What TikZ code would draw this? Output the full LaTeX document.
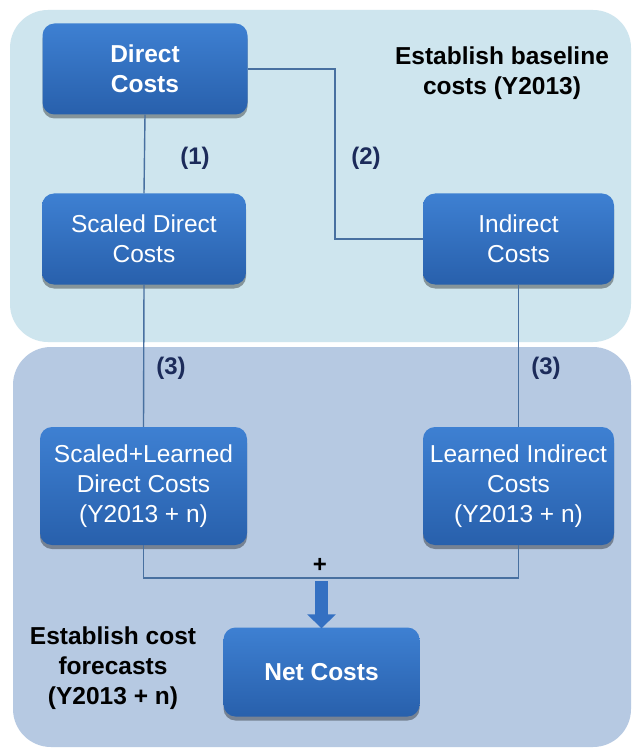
\documentclass[tikz,border=0pt]{standalone}
\usepackage{fontspec}
\setmainfont{Liberation Sans}
\usetikzlibrary{shadows,arrows.meta}

\definecolor{toppanel}{RGB}{206,229,238}
\definecolor{botpanel}{RGB}{182,201,226}
\definecolor{boxtop}{RGB}{62,128,210}
\definecolor{boxbot}{RGB}{40,96,172}
\definecolor{wire}{RGB}{72,112,160}
\definecolor{numcol}{RGB}{28,43,90}
\definecolor{arrowcol}{RGB}{52,112,194}

\tikzset{
  costbox/.style={rectangle, rounded corners=12pt, top color=boxtop, bottom color=boxbot,
    text=white, align=center, inner sep=2pt,
    font=\fontsize{24.5}{30}\selectfont,
    drop shadow={shadow xshift=0pt, shadow yshift=-4pt, opacity=0.35, fill=black}},
  boldbox/.style={costbox, font=\fontsize{24.5}{30}\selectfont\bfseries},
  wirestyle/.style={draw=wire, line width=1.4pt},
  steplabel/.style={text=numcol, font=\fontsize{24}{30}\selectfont\bfseries},
  phasetitle/.style={text=black, align=center, font=\fontsize{24.5}{30}\selectfont\bfseries}
}

\begin{document}
\begin{tikzpicture}[x=1pt,y=-1pt]
  \useasboundingbox (0,0) rectangle (632,751);
  \fill[white] (0,0) rectangle (632,751);

  % two phase panels
  \fill[toppanel, rounded corners=38pt] (10,10) rectangle (631,342);
  \fill[botpanel, rounded corners=38pt] (13,347) rectangle (631,747);

  % cost boxes
  \node[boldbox, minimum width=205pt, minimum height=91pt] (dc) at (145,69) {Direct\\Costs};
  \node[costbox, minimum width=204pt, minimum height=91pt] (sd) at (144,239) {Scaled Direct\\Costs};
  \node[costbox, minimum width=191pt, minimum height=91pt] (ic) at (518.5,239) {Indirect\\Costs};
  \node[costbox, minimum width=207pt, minimum height=118pt] (sl) at (143.5,486) {Scaled+Learned\\Direct Costs\\(Y2013 + n)};
  \node[costbox, minimum width=191pt, minimum height=118pt] (li) at (518.5,486) {Learned Indirect\\Costs\\(Y2013 + n)};
  \node[boldbox, minimum width=196pt, minimum height=89pt] (nc) at (321.5,672) {Net Costs};

  % phase titles
  \node[phasetitle] (t1) at (502,73) {Establish baseline\\costs (Y2013)};
  \node[phasetitle] (t2) at (113,668) {Establish cost\\forecasts\\(Y2013 + n)};

  % connectors
  \draw[wirestyle] (dc.south) -- (sd.north);
  \coordinate (bend) at (335,0);
  \draw[wirestyle] (dc.east) -| (bend |- ic.west) -- (ic.west);
  \draw[wirestyle] (sd.south) -- (sl.north);
  \draw[wirestyle] (ic.south) -- (li.north);
  \coordinate (join) at (0,578);
  \draw[wirestyle] (sl.south) -- (sl.south |- join) -- (li.south |- join) -- (li.south);
  \coordinate (arrowtop) at (nc.north |- 0,581);
  \draw[draw=arrowcol, line width=13pt, -{Triangle[width=28pt,length=14pt]}]
    (arrowtop) -- ([yshift=-1pt]nc.north);

  % step labels
  \node[steplabel] (s1) at (195,158) {(1)};
  \node[steplabel] (s2) at (366,158) {(2)};
  \node[steplabel] (s3a) at (171,368) {(3)};
  \node[steplabel] (s3b) at (546,368) {(3)};
  \node[text=black, font=\fontsize{24}{30}\selectfont\bfseries] (plus) at (320,565) {+};
\end{tikzpicture}
\end{document}
